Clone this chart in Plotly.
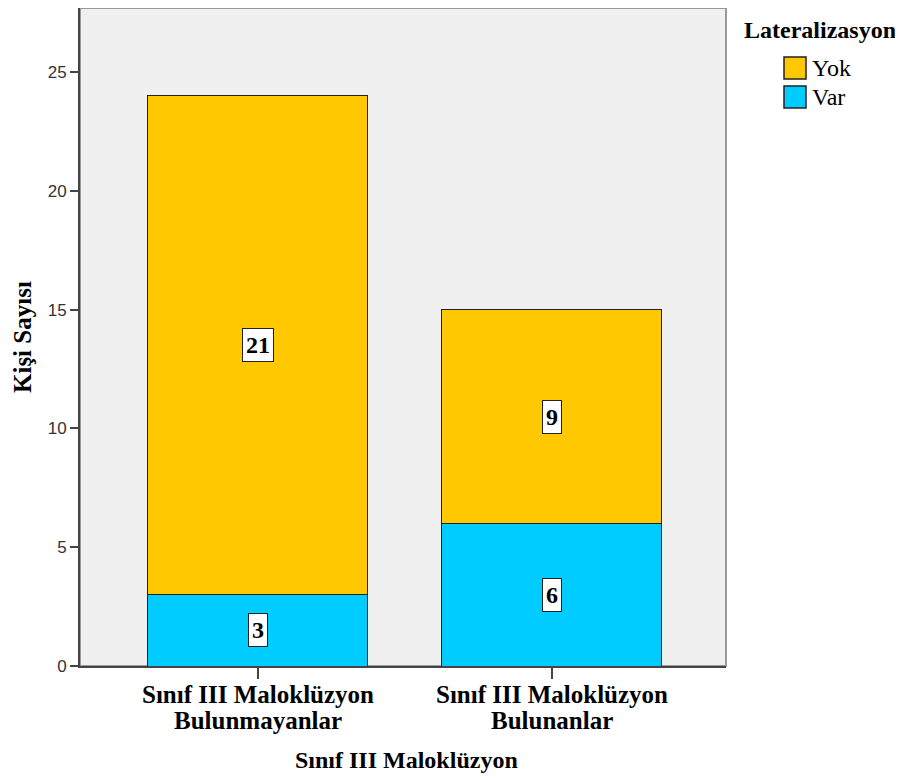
import plotly.graph_objects as go

categories = ["Sınıf III Maloklüzyon<br>Bulunmayanlar", "Sınıf III Maloklüzyon<br>Bulunanlar"]
var_values = [3, 6]
yok_values = [21, 9]
y_ticks = [0, 5, 10, 15, 20, 25]
legend_title = "Lateralizasyon"
legend_names = ["Yok", "Var"]
x_title = "Sınıf III Maloklüzyon"
y_title = "Kişi Sayısı"

YELLOW = "#FFC800"
CYAN = "#00CCFF"
SERIF = "Liberation Serif, Times New Roman, serif"
SANS = "Liberation Sans, Arial, sans-serif"

OFF = 8  # page body margin
W, H = 895, 772
L, R, T, B = 72, 177, 0, 114
PW, PH = W - L - R, H - T - B
PLOT_LEFT = OFF + L
PLOT_BOTTOM = OFF + H - B


def px(xp):
    return (xp - PLOT_LEFT) / PW


def py(yp):
    return (PLOT_BOTTOM - yp) / PH


xpos = list(range(len(categories)))

fig = go.Figure()
fig.add_trace(go.Bar(x=xpos, y=var_values, name="Var", marker=dict(color=CYAN, line=dict(color="#222", width=1)), width=0.748))
fig.add_trace(go.Bar(x=xpos, y=yok_values, name="Yok", marker=dict(color=YELLOW, line=dict(color="#222", width=1)), width=0.748))

# value labels
for i in xpos:
    for base, val in ((0, var_values[i]), (var_values[i], yok_values[i])):
        fig.add_annotation(x=i, y=base + val / 2, text=f"<b>{val}</b>", showarrow=False,
                           xanchor="center", yanchor="middle",
                           font=dict(family=SERIF, size=24, color="black"),
                           bgcolor="white", bordercolor="#222", borderwidth=1, borderpad=3,
                           xref="x", yref="y")

# category tick labels (two lines, tight spacing)
for i, cat in zip(xpos, categories):
    for j, line in enumerate(cat.split("<br>")):
        fig.add_annotation(x=i, y=py(694 + 26 * j), xref="x", yref="paper", text=f"<b>{line}</b>",
                           showarrow=False, xanchor="center", yanchor="middle",
                           font=dict(family=SERIF, size=25, color="black"))

# axis titles
fig.add_annotation(x=px(22), y=py(337), xref="paper", yref="paper", text=f"<b>{y_title}</b>",
                   textangle=-90, showarrow=False, xanchor="center", yanchor="middle",
                   font=dict(family=SERIF, size=25, color="black"))
fig.add_annotation(x=px(406), y=py(760), xref="paper", yref="paper", text=f"<b>{x_title}</b>",
                   showarrow=False, xanchor="center", yanchor="middle",
                   font=dict(family=SERIF, size=24, color="black"))

# manual legend
fig.add_annotation(x=px(820), y=py(30), xref="paper", yref="paper", text=f"<b>{legend_title}</b>",
                   showarrow=False, xanchor="center", yanchor="middle",
                   font=dict(family=SERIF, size=24, color="black"))
for k, (name, col) in enumerate(zip(legend_names, [YELLOW, CYAN])):
    cy = 68 + 29 * k
    fig.add_shape(type="rect", xref="paper", yref="paper", x0=px(784), x1=px(806), y0=py(cy + 11), y1=py(cy - 11),
                  fillcolor=col, line=dict(color="#222", width=1.5))
    fig.add_annotation(x=px(810), y=py(cy), xref="paper", yref="paper", text=name, xanchor="left", yanchor="middle",
                       showarrow=False, font=dict(family=SERIF, size=24, color="black"))

fig.update_layout(
    barmode="stack",
    width=W, height=H,
    margin=dict(l=L, r=R, t=T, b=B, autoexpand=False),
    paper_bgcolor="white",
    plot_bgcolor="#F0F0F0",
    showlegend=False,
    xaxis=dict(
        tickmode="array", tickvals=xpos, showticklabels=False,
        range=[-0.605, 1.592],
        ticks="outside", ticklen=11, tickcolor="#444", tickwidth=2,
        showline=True, linecolor="#444", linewidth=2, mirror=False,
        showgrid=False, zeroline=False, automargin=False,
    ),
    yaxis=dict(
        tickmode="array", tickvals=y_ticks,
        range=[0, 27.7],
        tickfont=dict(family=SANS, size=17, color="#333"),
        ticks="outside", ticklen=8, tickcolor="#444", tickwidth=2,
        showline=True, linecolor="#444", linewidth=2,
        showgrid=False, zeroline=False, automargin=False,
    ),
)

# grey frame on top and right
fig.add_shape(type="rect", xref="paper", yref="paper", x0=0, y0=0, x1=1, y1=1,
              line=dict(color="#999", width=2), fillcolor="rgba(0,0,0,0)", layer="below")

fig.write_html("out.html")
